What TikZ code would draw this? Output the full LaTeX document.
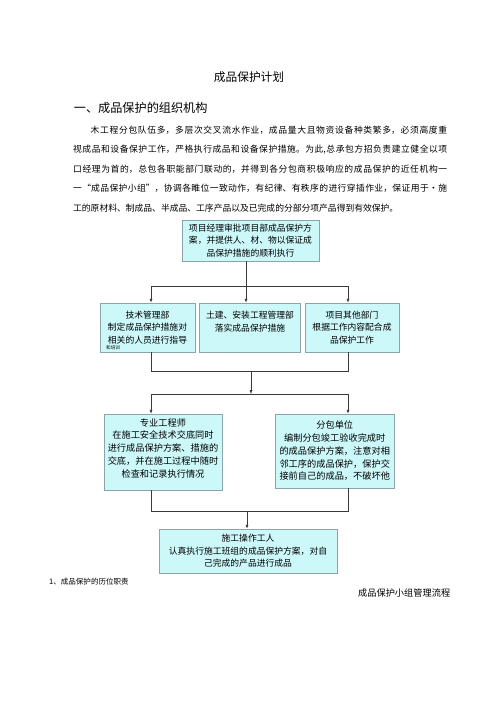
\documentclass[tikz,border=0pt]{standalone}
\usepackage{fontspec}
\setmainfont{Noto Sans CJK SC}
\usetikzlibrary{arrows.meta,positioning}
\XeTeXlinebreaklocale "zh"
\XeTeXlinebreakskip=0pt plus 2pt

\definecolor{boxfill}{HTML}{CCF8FA}
\definecolor{boxline}{HTML}{8AA4AA}
\definecolor{flowline}{HTML}{3A3A3A}

\tikzset{
  flowbox/.style={draw=boxline, fill=boxfill, line width=0.8pt, inner sep=0pt, align=center,
    font=\fontsize{10.5}{15}\selectfont},
  flow/.style={draw=flowline, line width=0.7pt},
  flowarrow/.style={flow, -{Latex[length=1.6mm,width=1.3mm]}},
}

\begin{document}
\begin{tikzpicture}[x=0.42mm, y=-0.42mm]
  \useasboundingbox[fill=white] (0,0) rectangle (500,707);

  \node[font=\fontsize{14}{16}\selectfont] (title) at (249,77) {成品保护计划};
  \node[anchor=west, font=\fontsize{14.5}{16}\selectfont] (heading) at (71,108) {一、成品保护的组织机构};
  \node[anchor=base west, text width=157.1mm, align=justify, inner sep=0pt,
        font=\fontsize{10.5}{23.2}\selectfont] (intro) at (73,133.5)
    {\hspace*{2em}木工程分包队伍多，多层次交叉流水作业，成品量大且物资设备种类繁多，必须高度重\linebreak
     视成品和设备保护工作，严格执行成品和设备保护措施。为此,总承包方招负责建立健全以项\linebreak
     口经理为首的，总包各职能部门联动的，并得到各分包商积极响应的成品保护的近任机构一\linebreak
     一“成品保护小组”，协调各睢位一致动作，有纪律、有秩序的进行穿插作业，保证用于•施\linebreak
     工的原材料、制成品、半成品、工序产品以及已完成的分部分项产品得到有效保护。};

  \node[flowbox, minimum width=57.5mm, minimum height=17.2mm] (approve) at (250.5,240.5)
    {项目经理审批项目部成品保护方\\案，并提供人、材、物以保证成\\品保护措施的顺利执行};

  \node[flowbox, minimum width=39.9mm, minimum height=20.6mm] (tech) at (147.5,327.5)
    {技术管理部\\制定成品保护措施对\\相关的人员进行指导};
  \node[anchor=west, inner sep=0pt, font=\fontsize{5.5}{6}\selectfont] (techmore) at (106,348) {和培训};
  \node[flowbox, minimum width=42.2mm, minimum height=20.6mm] (site) at (250,327.5)
    {土建、安装工程管理部\\落实成品保护措施\\\mbox{}};
  \node[flowbox, minimum width=39.5mm, minimum height=20.6mm] (other) at (352,327.5)
    {项目其他部门\\根据工作内容配合成\\品保护工作};

  \node[flowbox, minimum width=49.6mm, minimum height=31.9mm,
        font=\fontsize{11}{15.2}\selectfont] (engineer) at (163,452)
    {专业工程师\\在施工安全技术交底同时\\进行成品保护方案、措施的\\交底，并在施工过程中随时\\检查和记录执行情况\\[-5pt]\mbox{}};
  \node[flowbox, minimum width=49.8mm, minimum height=31.1mm,
        font=\fontsize{11}{15.2}\selectfont] (subcon) at (334.75,451)
    {分包单位\\编制分包竣工验收完成时\\的成品保护方案，注意对相\\邻工序的成品保护，保护交\\接前自己的成品，不破坏他};

  \node[flowbox, minimum width=74.8mm, minimum height=18.5mm] (worker) at (248,551)
    {施工操作工人\\认真执行施工班组的成品保护方案，对自\\己完成的产品进行成品};

  \coordinate (j1) at (246,286);
  \coordinate (j1l) at (151,286);
  \coordinate (j1r) at (348,286);
  \draw[flow] (approve.south -| j1) -- (j1);
  \draw[flow] (j1l) -- (j1r);
  \draw[flowarrow] (j1l) -- (j1l |- tech.north);
  \draw[flowarrow] (j1) -- (j1 |- site.north);
  \draw[flowarrow] (j1r) -- (j1r |- other.north);

  \coordinate (j2) at (251,371);
  \coordinate (j2l) at (151,371);
  \coordinate (j2r) at (348,371);
  \coordinate (j3) at (251,394);
  \coordinate (j3l) at (151,394);
  \coordinate (j3r) at (348,394);
  \draw[flow] (j2l |- tech.south) -- (j2l) -- (j2r) -- (j2r |- other.south);
  \draw[flowarrow] (j2) -- (j3);
  \draw[flow] (j3l) -- (j3r);
  \draw[flowarrow] (j3l) -- (j3l |- engineer.north);
  \draw[flowarrow] (j3r) -- (j3r |- subcon.north);

  \coordinate (j4) at (247,511);
  \coordinate (j4l) at (151,511);
  \coordinate (j4r) at (348,511);
  \draw[flow] (j4l |- engineer.south) -- (j4l) -- (j4r) -- (j4r |- subcon.south);
  \draw[flowarrow] (j4) -- (j4 |- worker.north);

  \node[anchor=west, inner sep=0pt, font=\fontsize{9}{10}\selectfont] (duty) at (49,582) {1、成品保护的历位职责};
  \node[anchor=west, inner sep=0pt, font=\fontsize{11}{12}\selectfont] (flowcap) at (358,593) {成品保护小组管理流程};
\end{tikzpicture}
\end{document}
